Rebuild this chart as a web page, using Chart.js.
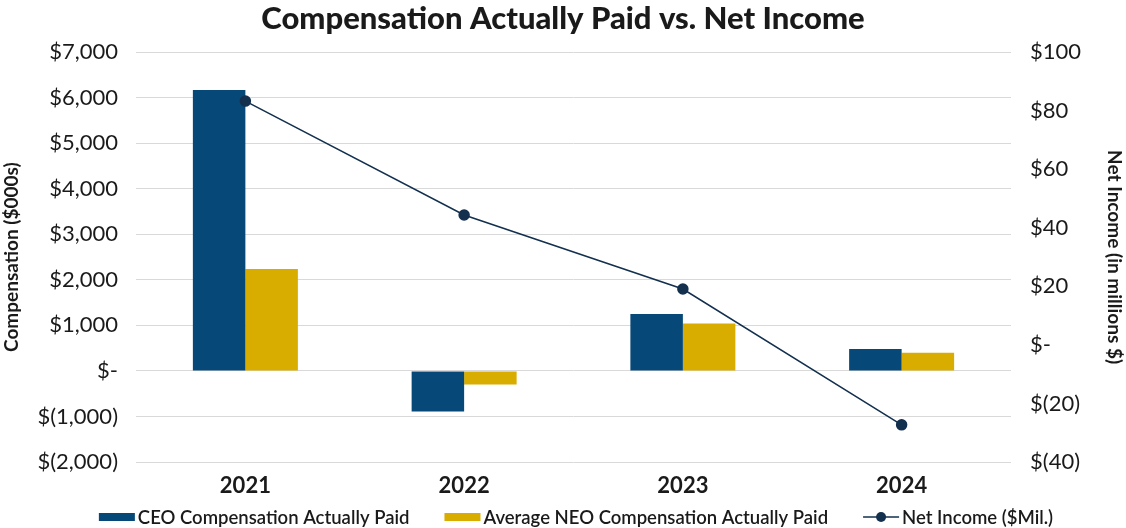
<!DOCTYPE html>
<html>
<head>
<meta charset="utf-8">
<script src="https://cdn.jsdelivr.net/npm/chart.js@4"></script>
<style>
  html, body { margin: 0; padding: 0; background: #fff; }
  #wrap { width: 1126px; height: 528px; }
</style>
</head>
<body>
<div id="wrap"><canvas id="cap"></canvas></div>
<script>
  // Data
  const years = ["2021", "2022", "2023", "2024"];
  const ceoPaid = [6170, -890, 1250, 480];      // $000s
  const neoPaid = [2240, -300, 1040, 400];      // $000s
  const netIncome = [83.3, 44.4, 19.1, -27.3];  // $ millions

  const FONT = "Lato, 'Noto Sans', sans-serif";
  const INK = "#1a1a1a";

  // $ format with brackets for negatives and "$-" for zero
  function money(v) {
    if (v === 0) return "$-";
    const s = Math.abs(v).toLocaleString("en-US");
    return v < 0 ? "$(" + s + ")" : "$" + s;
  }

  // Legend drawn under the axis labels (swatch right next to the text)
  const bottomLegend = {
    id: "bottomLegend",
    afterDraw(c) {
      const g = c.ctx;
      const y = 517;
      g.save();
      g.font = "600 18.5px " + FONT;
      g.textBaseline = "middle";
      const items = c.data.datasets.map(ds => ({ ds, w: 36 + 3 + g.measureText(ds.label).width }));
      const gap = 35;
      const total = items.reduce((a, it) => a + it.w, 0) + gap * (items.length - 1);
      let x = 576 - total / 2;
      items.forEach(it => {
        const ds = it.ds;
        if (ds.type === "line") {
          g.strokeStyle = ds.borderColor; g.lineWidth = 1.5;
          g.beginPath(); g.moveTo(x, y); g.lineTo(x + 36, y); g.stroke();
          g.fillStyle = ds.borderColor;
          g.beginPath(); g.arc(x + 18, y, 5, 0, Math.PI * 2); g.fill();
        } else {
          g.fillStyle = ds.backgroundColor;
          g.fillRect(x, y - 4, 36, 8);
        }
        g.fillStyle = INK;
        g.fillText(ds.label, x + 39, y + 1);
        x += it.w + gap;
      });
      g.restore();
    }
  };

  const ctx = document.getElementById("cap").getContext("2d");
  const chart = new Chart(ctx, {
    type: "bar",
    data: {
      labels: years,
      datasets: [
        {
          label: "CEO Compensation Actually Paid",
          data: ceoPaid,
          backgroundColor: "#064877",
          yAxisID: "y",
          order: 1,
          categoryPercentage: 0.48,
          barPercentage: 1.0
        },
        {
          label: "Average NEO Compensation Actually Paid",
          data: neoPaid,
          backgroundColor: "#d9ac00",
          yAxisID: "y",
          order: 1,
          categoryPercentage: 0.48,
          barPercentage: 1.0
        },
        {
          type: "line",
          label: "Net Income ($Mil.)",
          data: netIncome,
          borderColor: "#13304f",
          backgroundColor: "#13304f",
          borderWidth: 1.5,
          pointRadius: 5,
          pointBackgroundColor: "#13304f",
          yAxisID: "y1",
          order: 0
        }
      ]
    },
    plugins: [bottomLegend],
    options: {
      responsive: true,
      maintainAspectRatio: false,
      animation: false,
      layout: { padding: { left: 0, right: 0, top: 0, bottom: 30 } },
      plugins: {
        title: {
          display: true,
          text: "Compensation Actually Paid vs. Net Income",
          color: INK,
          font: { family: FONT, size: 31, weight: "900" },
          padding: { top: 0, bottom: 15 }
        },
        tooltip: { enabled: false },
        legend: { display: false }
      },
      scales: {
        x: {
          grid: { display: false },
          border: { display: false },
          ticks: { color: INK, font: { family: FONT, size: 22, weight: "bold" }, padding: 3 },
          afterFit: s => { s.height = 36; }
        },
        y: {
          position: "left",
          min: -2000,
          max: 7000,
          border: { display: false },
          grid: { color: "#d9d9d9", lineWidth: 1, drawTicks: false },
          ticks: {
            stepSize: 1000,
            padding: 18,
            color: INK,
            font: { family: FONT, size: 22 },
            callback: v => money(v)
          },
          title: {
            display: true,
            text: "Compensation ($000s)",
            color: INK,
            font: { family: FONT, size: 19, weight: "bold" },
            padding: { top: 0, bottom: 0 }
          },
          afterFit: s => { s.width = 136; }
        },
        y1: {
          position: "right",
          min: -40,
          max: 100,
          border: { display: false },
          grid: { drawOnChartArea: false, drawTicks: false },
          ticks: {
            stepSize: 20,
            padding: 19,
            color: INK,
            font: { family: FONT, size: 22 },
            callback: v => money(v)
          },
          title: {
            display: true,
            text: "Net Income (in millions $)",
            color: INK,
            font: { family: FONT, size: 19, weight: "bold" },
            padding: { top: 0, bottom: 0 }
          },
          afterFit: s => { s.width = 115; }
        }
      }
    }
  });
</script>
</body>
</html>
